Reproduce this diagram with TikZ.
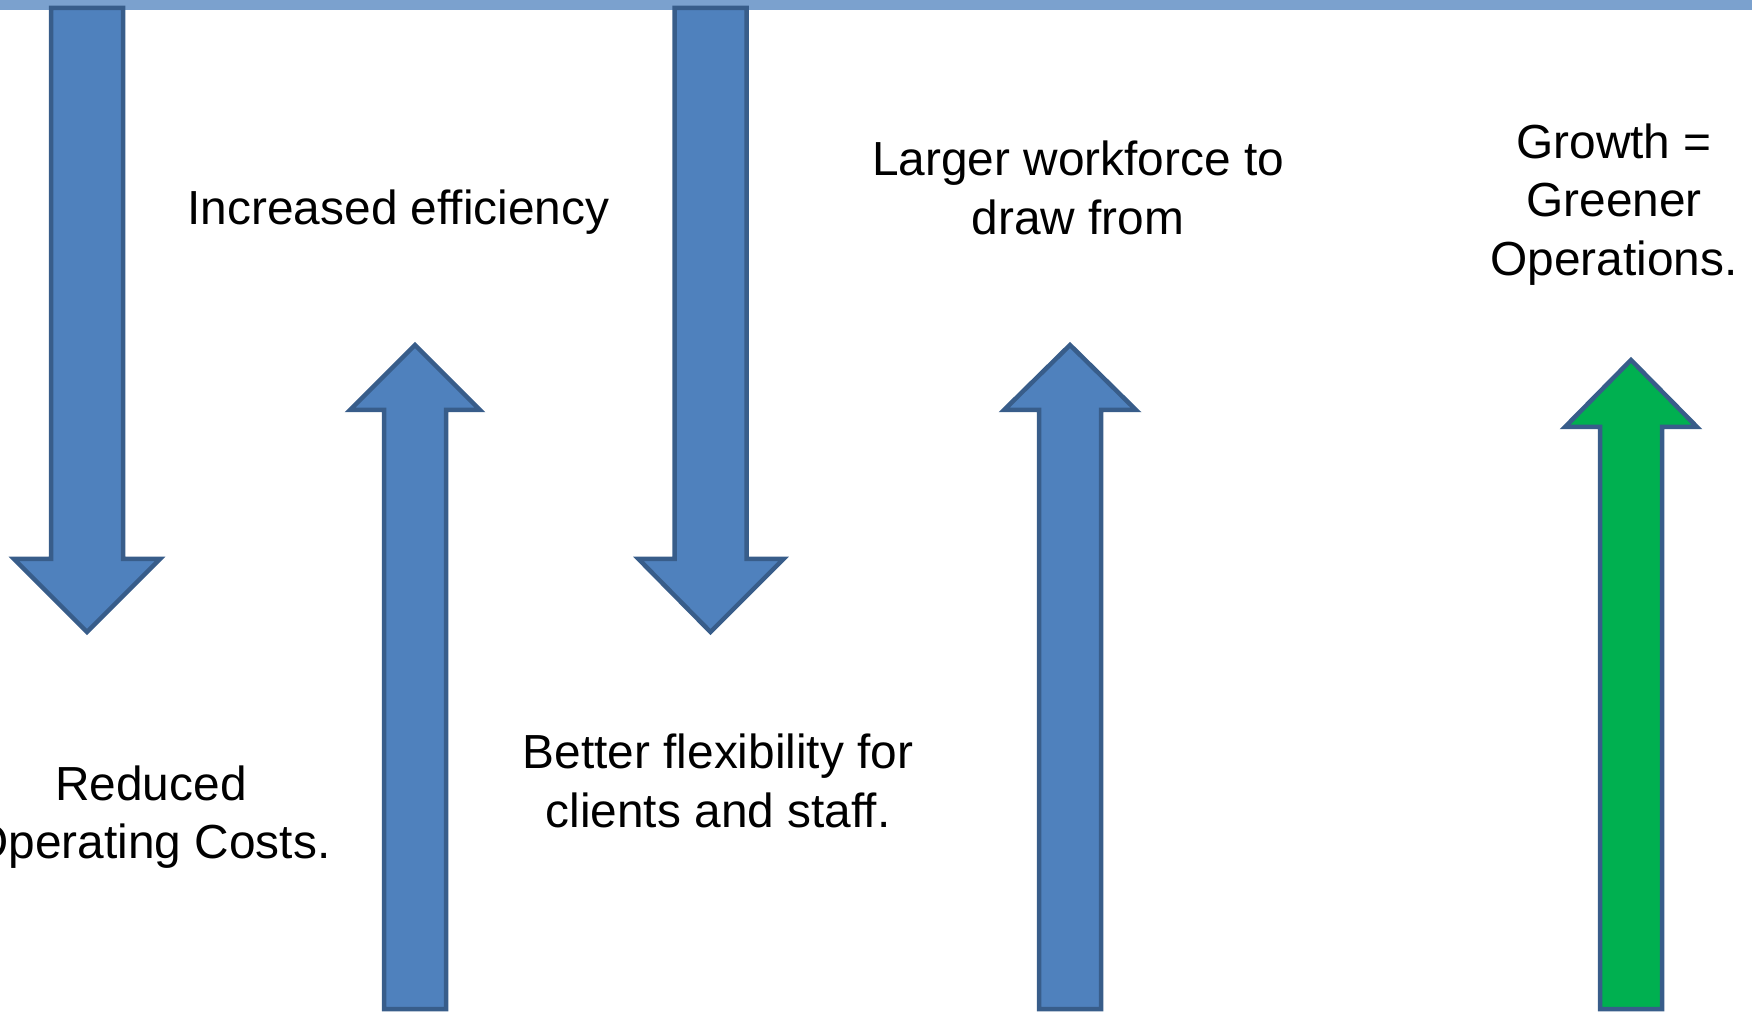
\documentclass[tikz,border=0pt]{standalone}
\usepackage{fontspec}
\setmainfont{Liberation Sans}
\usepackage{tikz}
\usetikzlibrary{positioning}

\definecolor{arrowfill}{HTML}{4F81BD}
\definecolor{arrowline}{HTML}{385D8A}
\definecolor{greenfill}{HTML}{00B050}
\definecolor{barcol}{HTML}{7BA1CE}

\tikzset{
  blockarrow/.style={fill=arrowfill, draw=arrowline, line width=4.5bp, line join=miter},
  greenarrow/.style={blockarrow, fill=greenfill},
  benefit/.style={align=center, inner sep=0pt, font=\fontsize{48}{58.5}\selectfont}
}

\begin{document}
\begin{tikzpicture}[x=1bp,y=1bp]
  \useasboundingbox (0,0) rectangle (1752,1013);
  %%
  \fill[barcol] (0,1003) rectangle (1752,1013);
  % Arrow: down, left
  \filldraw[blockarrow] (51,1005) -- (51,454) -- (14,454) -- (87,381) -- (160,454) -- (123,454) -- (123,1005) -- cycle;
  % Arrow: down, middle
  \filldraw[blockarrow] (674.5,1005) -- (674.5,454) -- (638.5,454) -- (710.5,381) -- (783.5,454) -- (746.5,454) -- (746.5,1005) -- cycle;
  % Arrow: up, left
  \filldraw[blockarrow] (384,4) -- (384,603) -- (350,603) -- (415,668) -- (480,603) -- (446,603) -- (446,4) -- cycle;
  % Arrow: up, right
  \filldraw[blockarrow] (1039,4) -- (1039,603) -- (1004,603) -- (1070,668) -- (1136,603) -- (1101,603) -- (1101,4) -- cycle;
  % Arrow: up, green
  \filldraw[greenarrow] (1600,4) -- (1600,586) -- (1565,586) -- (1631,653) -- (1697,586) -- (1662,586) -- (1662,4) -- cycle;
  %
  % Label: efficiency
  \node[benefit] (efficiency) at (398.5,800.5) {Increased efficiency};
  % Label: workforce
  \node[benefit] (workforce) at (1078,825) {Larger workforce to\\draw from};
  % Label: growth
  \node[benefit] (growth) at (1614,808.5) {Growth =\\Greener\\Operations.};
  % Label: costs
  \node[benefit] (costs) at (151,196) {Reduced\\Operating Costs.};
  % Label: flexibility
  \node[benefit] (flexibility) at (718,232) {Better flexibility for\\clients and staff.};
  %
\end{tikzpicture}
\end{document}
